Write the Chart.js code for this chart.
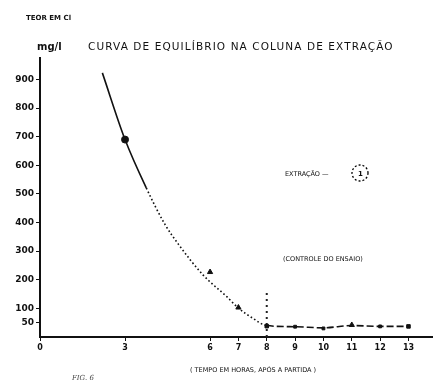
<title>Curva de Equilibrio</title>
<script src=https://cdn.jsdelivr.net/npm/chart.js@4.4.1/dist/chart.umd.min.js></script>
<style>body{margin:0;background:#fff}</style>
<canvas id="c" width="437" height="383"></canvas>
<script>
// tempo (h) e teor (mg/l)
var hourTicks = [0,3,6,7,8,9,10,11,12,13];
var mgTicks = [50,100,200,300,400,500,600,700,800,900];
var curveT  = [2.2,3,3.75,4.4,4.9,5.75,6.6,7,7.5,8,9,10,11,12,13];
var curveMg = [923,690,521,395,322,217,140,101,66,40,36,32,40,37,37];
var pointT  = [3,6,7,8,9,10,11,12,13];
var pointMg = [690,227,103,38,36,30,42,37,37];
var startT  = [8,8];
var startMg = [0,157];

function xy(xs,ys){ return xs.map(function(x,i){ return {x:x,y:ys[i]}; }); }

var labels = {
  id:'labels',
  afterDraw:function(ch){
    var c = ch.ctx;
    c.save();
    c.fillStyle = '#111';
    c.textBaseline = 'alphabetic';
    c.font = 'bold 7px "DejaVu Sans"';
    c.fillText('TEOR EM Cl', 26, 20);
    c.font = 'bold 10px "DejaVu Sans"';
    c.fillText('mg/l', 37, 50);
    c.font = '10.5px "DejaVu Sans"';
    c.letterSpacing = '1.1px';
    c.fillText('CURVA DE EQUILÍBRIO NA COLUNA DE EXTRAÇÃO', 88, 50);
    c.letterSpacing = '0px';
    c.font = '6.5px "DejaVu Sans"';
    c.fillText('EXTRAÇÃO —', 285, 176);
    c.fillText('(CONTROLE DO ENSAIO)', 283, 261);
    c.fillText('( TEMPO EM HORAS, APÓS A PARTIDA )', 190, 372);
    c.font = 'bold 7px "DejaVu Sans"';
    c.fillText('1', 358, 176);
    c.setLineDash([2,2]);
    c.lineWidth = 1.3;
    c.beginPath(); c.arc(360,173,8,0,Math.PI*2); c.stroke();
    c.font = 'italic 7px "DejaVu Serif"';
    c.fillStyle = '#444';
    c.fillText('FIG. 6', 72, 380);
    c.restore();
  }
};

new Chart(document.getElementById('c'), {
  type:'line',
  data:{datasets:[
    {data:xy(curveT,curveMg), borderColor:'#111', borderWidth:1.6, pointRadius:0,
     cubicInterpolationMode:'monotone',
     segment:{borderDash:function(s){
       var x = s.p0.parsed.x;
       if(x < 3.7) return undefined;
       if(x < 8) return [1.6,2.4];
       return [7,3];
     }}},
    {data:xy(pointT,pointMg), showLine:false, backgroundColor:'#111', borderColor:'#111',
     pointStyle:['circle','triangle','triangle','rect','rect','rect','triangle','rect','rect'],
     pointRadius:[3.5,3,3,2.5,2,2,3,2,2.5]},
    {data:xy(startT,startMg), borderColor:'#222', borderWidth:2, borderDash:[2,4], pointRadius:0}
  ]},
  options:{
    responsive:false, animation:false,
    layout:{padding:{top:58,left:0,right:0,bottom:0}},
    plugins:{legend:{display:false}, tooltip:{enabled:false}},
    scales:{
      x:{type:'linear', min:0, max:13.83,
         afterBuildTicks:function(s){ s.ticks = hourTicks.map(function(v){return {value:v};}); },
         afterFit:function(s){ s.height = 46; },
         grid:{drawOnChartArea:false, tickLength:4, color:'#111'},
         border:{color:'#111', width:2},
         ticks:{color:'#111', padding:2, font:{family:'DejaVu Sans', size:8, weight:'bold'}}},
      y:{min:0, max:975,
         afterBuildTicks:function(s){ s.ticks = mgTicks.map(function(v){return {value:v};}); },
         afterFit:function(s){ s.width = 40; },
         grid:{drawOnChartArea:false, tickLength:4, color:'#111'},
         border:{color:'#111', width:2},
         ticks:{color:'#111', padding:2, font:{family:'DejaVu Sans', size:9, weight:'bold'}}}
    }
  },
  plugins:[labels]
});
</script>
